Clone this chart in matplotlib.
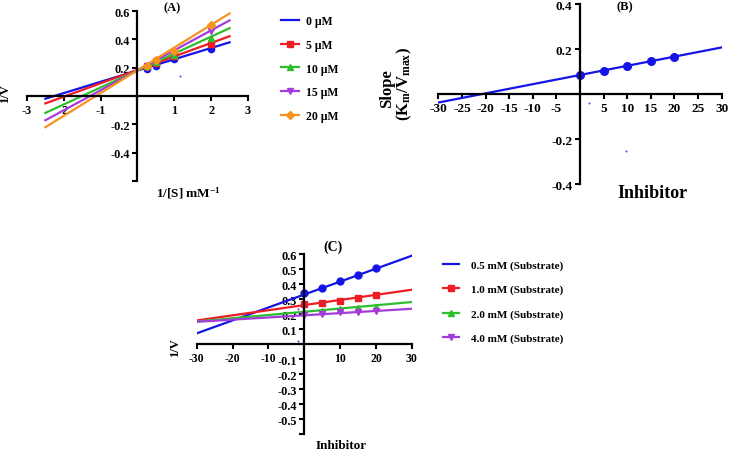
import numpy as np
import matplotlib
matplotlib.use('Agg')
import matplotlib.pyplot as plt
from matplotlib.lines import Line2D

plt.rcParams['font.family'] = ['Liberation Serif', 'DejaVu Serif']
plt.rcParams['font.weight'] = 'bold'
plt.rcParams['axes.unicode_minus'] = False
plt.rcParams['mathtext.default'] = 'regular'

# ---- data ----
# (A) Lineweaver-Burk
s_inv = [0.25, 0.5, 1, 2]
inhib_labels = ['0 μM', '5 μM', '10 μM', '15 μM', '20 μM']
vA_0 = [0.19, 0.213, 0.26, 0.335]
vA_5 = [0.21, 0.23, 0.28, 0.37]
vA_10 = [0.21, 0.24, 0.29, 0.41]
vA_15 = [0.215, 0.25, 0.31, 0.46]
vA_20 = [0.215, 0.255, 0.32, 0.50]
fitA_x = [-2.5, 2.5]
fitA_lo = [-0.019, -0.052, -0.119, -0.171, -0.22]
fitA_hi = [0.379, 0.422, 0.479, 0.534, 0.583]

# (B) secondary plot
inhib = [0, 5, 10, 15, 20]
slope_B = [0.084, 0.102, 0.124, 0.145, 0.166]
fitB_x = [-30, 30]
fitB_y = [-0.038, 0.207]

# (C) Dixon plot
subst_labels = ['0.5 mM (Substrate)', '1.0 mM (Substrate)', '2.0 mM (Substrate)', '4.0 mM (Substrate)']
vC_05 = [0.338, 0.371, 0.42, 0.462, 0.507]
vC_10 = [0.265, 0.271, 0.285, 0.307, 0.329]
vC_20 = [0.211, 0.218, 0.231, 0.238, 0.249]
vC_40 = [0.196, 0.2, 0.211, 0.213, 0.22]
fitC_x = [-30, 30]
fitC_lo = [0.071, 0.157, 0.15, 0.148]
fitC_hi = [0.589, 0.362, 0.28, 0.235]

# stray specks in the original image
specks_A = ([1.15], [0.143])
specks_B = ([2, 9.7], [-0.038, -0.255])
specks_C = ([-1.8, -1.8], [0.233, 0.022])

colors = ['#1414E6', '#EE1C24', '#2DBE2D', '#A43CDC', '#F7931E']
markers = ['o', 's', '^', 'v', 'D']


def setup_axis(ax, xlim, ylim):
    ax.set_xlim(xlim)
    ax.set_ylim(ylim)
    ax.spines['left'].set_position('zero')
    ax.spines['bottom'].set_position('zero')
    ax.spines['top'].set_visible(False)
    ax.spines['right'].set_visible(False)
    ax.spines['left'].set_linewidth(1.6)
    ax.spines['bottom'].set_linewidth(1.6)
    ax.tick_params(width=1.5, length=3.5, pad=2)
    ax.patch.set_alpha(0)


fig = plt.figure(figsize=(7.29, 4.52), dpi=100)

# ---------------- (A) ----------------
axA = fig.add_axes([0.0370, 0.5973, 0.3032, 0.3761])
setup_axis(axA, (-3, 3), (-0.6, 0.6))
yA = [vA_0, vA_5, vA_10, vA_15, vA_20]
for i in range(5):
    axA.plot(fitA_x, [fitA_lo[i], fitA_hi[i]], color=colors[i], lw=1.6)
    axA.plot(s_inv, yA[i], linestyle='none', marker=markers[i], color=colors[i], ms=4.5 if i != 4 else 3.8)
axA.plot(specks_A[0], specks_A[1], linestyle='none', marker='s', ms=1.2, color='#3030ff', mew=0)
axA.set_xticks([-3, -2, -1, 0, 1, 2, 3])
axA.set_xticklabels(['-3', '-2', '-1', '', '1', '2', '3'], fontsize=8.8)
axA.set_yticks([-0.6, -0.4, -0.2, 0, 0.2, 0.4, 0.6])
axA.set_yticklabels(['', '-0.4', '-0.2', '', '0.2', '0.4', '0.6'], fontsize=8.8)
fig.text(172 / 729, 1 - 8 / 452, '(A)', fontsize=9, ha='center', va='center')
fig.text(188 / 729, 1 - 193 / 452, r'1/[S] mM$^{-1}$', fontsize=9.5, ha='center', va='center')
fig.text(5 / 729, 1 - 94 / 452, '1/V', fontsize=9, rotation=90, ha='center', va='center')

handlesA = []
for i in range(5):
    handlesA.append(Line2D([], [], color=colors[i], lw=1.6,
                           marker=None if i == 0 else markers[i], ms=4))
axA.legend(handlesA, inhib_labels, loc='upper left', bbox_to_anchor=(281 / 729, 1 - 16 / 452),
           bbox_transform=fig.transFigure, frameon=False, borderpad=0, borderaxespad=0,
           fontsize=8.5, handlelength=1.5, handletextpad=0.6, labelspacing=1.0)

# ---------------- (B) ----------------
axB = fig.add_axes([0.6012, 0.5907, 0.3887, 0.3982])
setup_axis(axB, (-30, 30), (-0.4, 0.4))
axB.plot(fitB_x, fitB_y, color=colors[0], lw=1.6)
axB.plot(inhib, slope_B, linestyle='none', marker='o', ms=5.5, color=colors[0])
axB.plot(specks_B[0], specks_B[1], linestyle='none', marker='s', ms=1.2, color='#3030ff', mew=0)
axB.set_xticks(np.arange(-30, 31, 5))
axB.set_xticklabels(['-30', '-25', '-20', '-15', '-10', '-5', '', '5', '10', '15', '20', '25', '30'],
                    fontsize=9.5)
axB.set_yticks([-0.4, -0.2, 0, 0.2, 0.4])
axB.set_yticklabels(['-0.4', '-0.2', '', '0.2', '0.4'], fontsize=9.5)
fig.text(625 / 729, 1 - 7 / 452, '(B)', fontsize=9, ha='center', va='center')
fig.text(652 / 729, 1 - 193 / 452, 'Inhibitor', fontsize=13, ha='center', va='center')
fig.text(387 / 729, 1 - 89 / 452, 'Slope', fontsize=12, rotation=90, ha='center', va='center')
fig.text(404 / 729, 1 - 84 / 452, r'(K$_{m}$/V$_{max}$)', fontsize=12, rotation=90,
         ha='center', va='center')

# ---------------- (C) ----------------
axC = fig.add_axes([0.2698, 0.0376, 0.2953, 0.3982])
setup_axis(axC, (-30, 30), (-0.6, 0.6))
yC = [vC_05, vC_10, vC_20, vC_40]
for i in range(4):
    axC.plot(fitC_x, [fitC_lo[i], fitC_hi[i]], color=colors[i], lw=1.6)
    axC.plot(inhib, yC[i], linestyle='none', marker=markers[i], color=colors[i], ms=5)
axC.plot(specks_C[0], specks_C[1], linestyle='none', marker='s', ms=1.2, color='#3030ff', mew=0)
axC.set_xticks([-30, -20, -10, 0, 10, 20, 30])
axC.set_xticklabels(['-30', '-20', '-10', '', '10', '20', '30'], fontsize=8.5)
yticksC = np.round(np.arange(-0.6, 0.61, 0.1), 1)
axC.set_yticks(yticksC)
axC.set_yticklabels(['' if (v == 0 or v == -0.6) else '%.1f' % v for v in yticksC], fontsize=8.8)
fig.text(333 / 729, 1 - 247 / 452, '(C)', fontsize=10, ha='center', va='center')
fig.text(341 / 729, 1 - 446 / 452, 'Inhibitor', fontsize=9.5, ha='center', va='center')
fig.text(175 / 729, 1 - 348 / 452, '1/V', fontsize=9, rotation=90, ha='center', va='center')

handlesC = []
for i in range(4):
    handlesC.append(Line2D([], [], color=colors[i], lw=1.6,
                           marker=None if i == 0 else markers[i], ms=4))
axC.legend(handlesC, subst_labels, loc='upper left', bbox_to_anchor=(443 / 729, 1 - 261 / 452),
           bbox_transform=fig.transFigure, frameon=False, borderpad=0, borderaxespad=0,
           fontsize=8, handlelength=1.4, handletextpad=1.1, labelspacing=1.3)

fig.savefig('out.png', dpi=100)
